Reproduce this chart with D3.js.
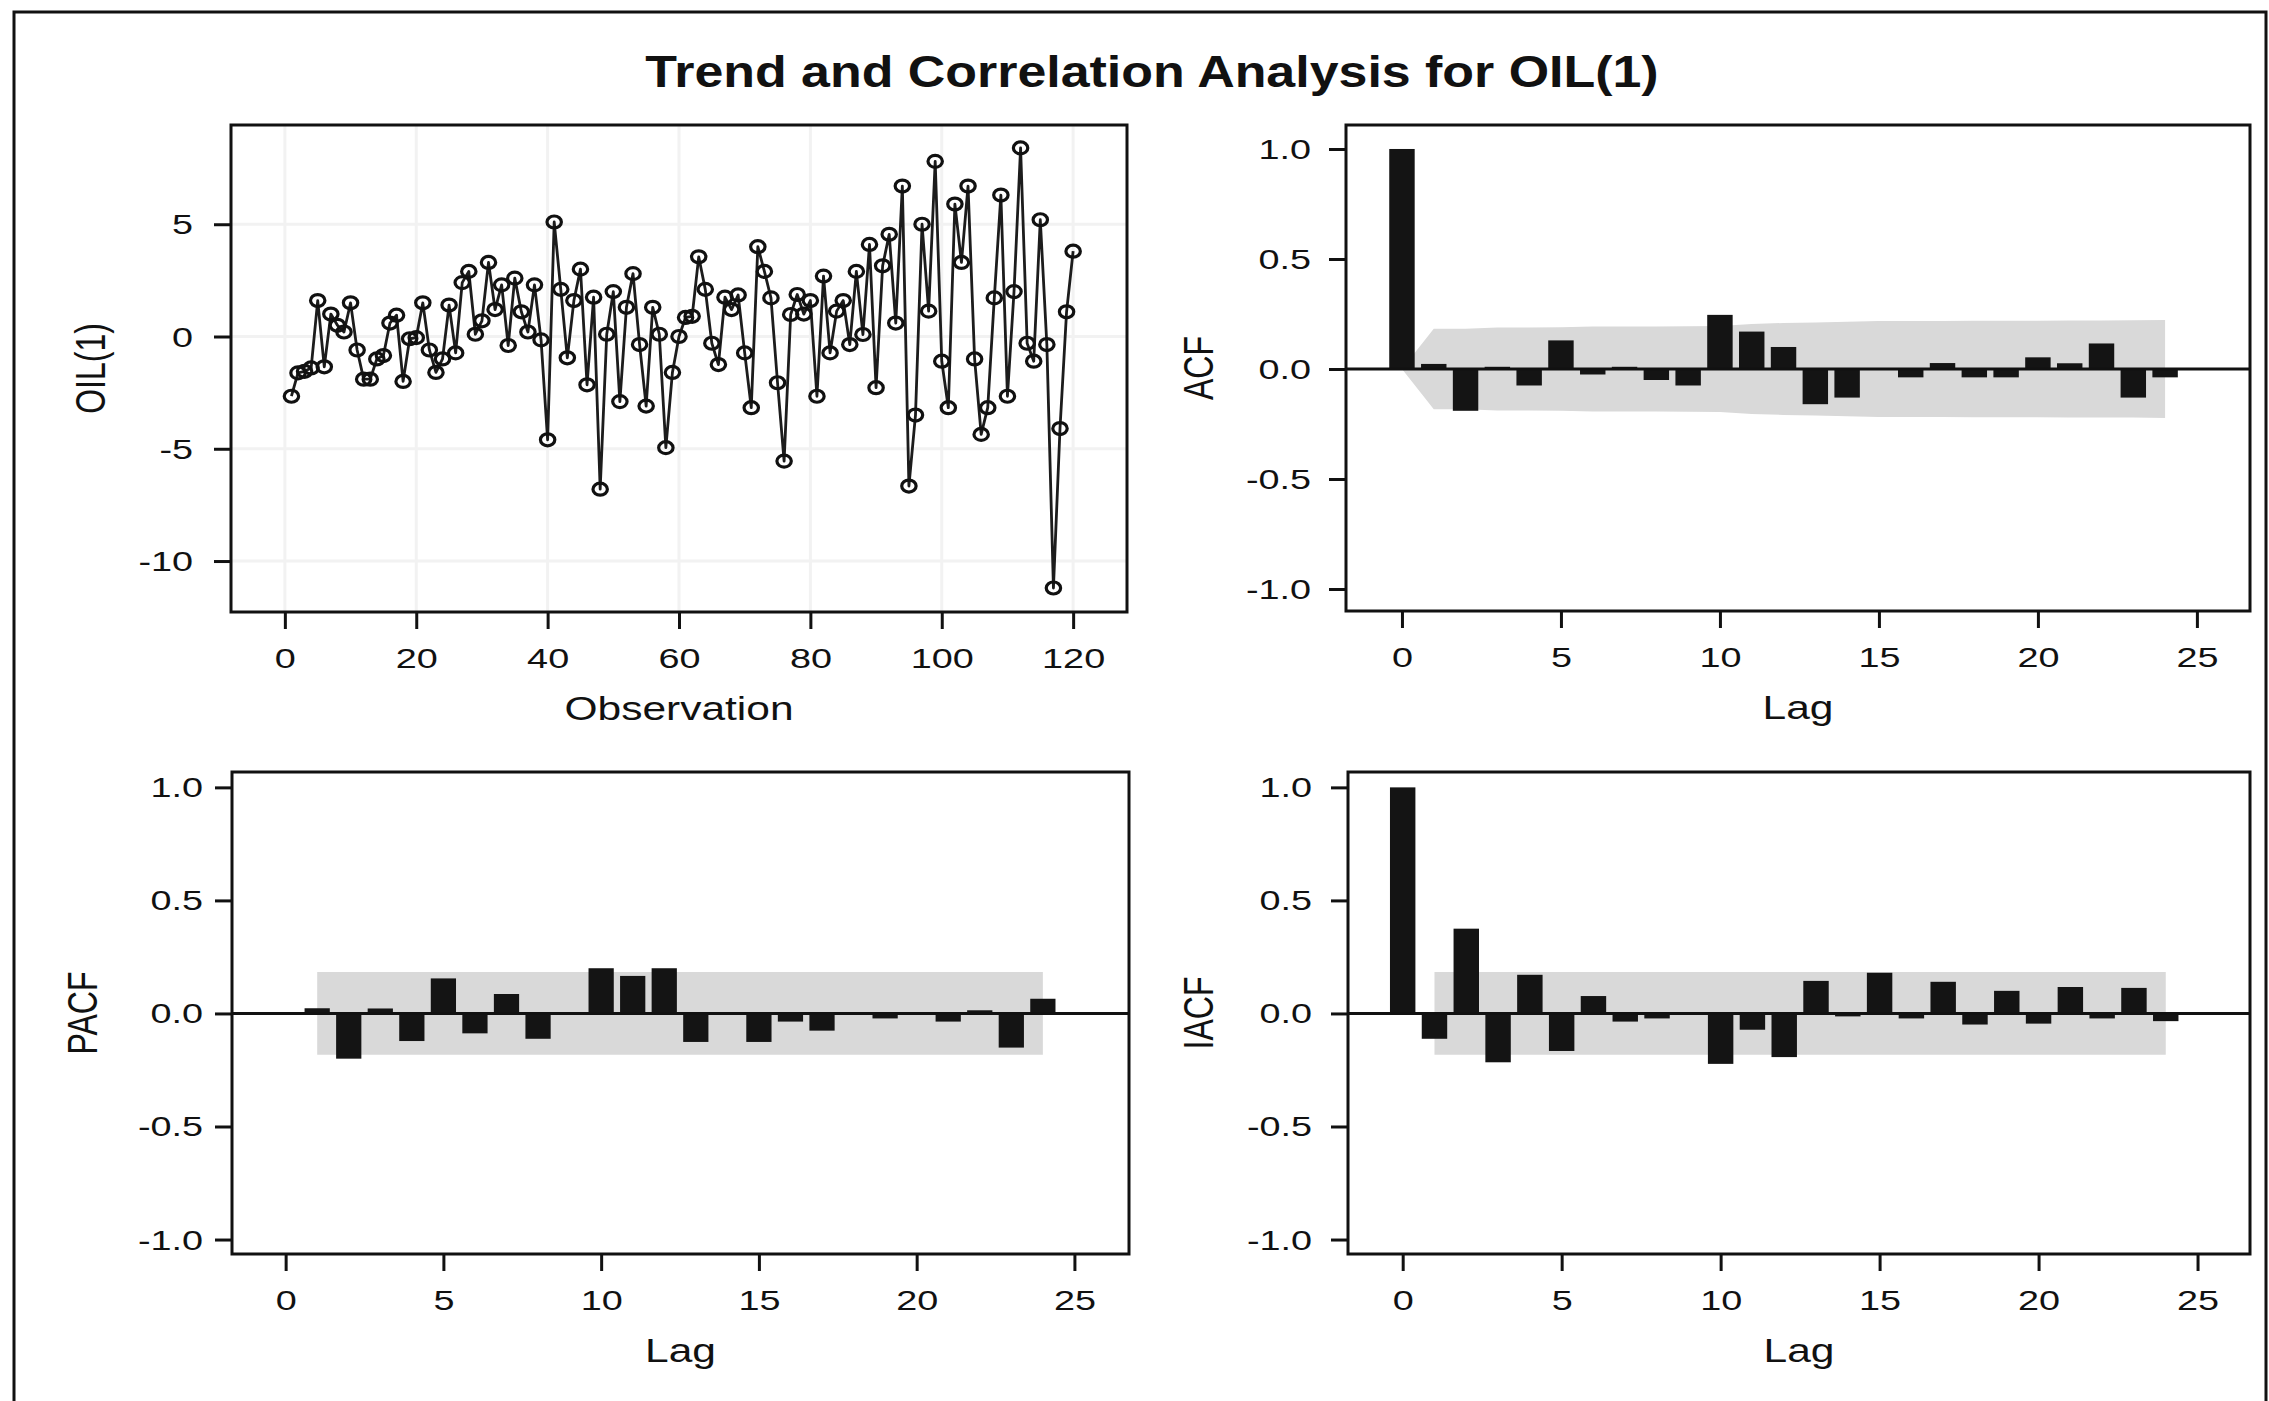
<!DOCTYPE html>
<html>
<head>
<meta charset="utf-8">
<script src="https://cdn.jsdelivr.net/npm/d3@7"></script>
<style>
body { margin: 0; background: #fff; }
text { font-family: "Liberation Sans", Arial, sans-serif; fill: #111; }
</style>
</head>
<body>
<script>
// first difference of OIL, observations 1..120
var oil = [
  -2.66, -1.62, -1.55, -1.4, 1.6, -1.35, 1.0, 0.5, 0.2, 1.5,
  -0.6, -1.9, -1.9, -1.0, -0.85, 0.6, 0.95, -2.0, -0.1, -0.05,
  1.5, -0.6, -1.6, -1.0, 1.4, -0.73, 2.4, 2.9, 0.1, 0.7,
  3.3, 1.2, 2.3, -0.4, 2.6, 1.1, 0.2, 2.3, -0.15, -4.6,
  5.1, 2.1, -0.95, 1.6, 3.0, -2.15, 1.75, -6.8, 0.1, 2.0,
  -2.9, 1.3, 2.8, -0.36, -3.1, 1.3, 0.1, -4.95, -1.6, 0.0,
  0.85, 0.9, 3.55, 2.1, -0.3, -1.25, 1.75, 1.2, 1.85, -0.73,
  -3.17, 4.0, 2.9, 1.72, -2.06, -5.55, 0.98, 1.87, 1.0, 1.6,
  -2.66, 2.69, -0.73, 1.13, 1.6, -0.36, 2.9, 0.09, 4.1, -2.28,
  3.15, 4.55, 0.6, 6.7, -6.66, -3.5, 5.0, 1.13, 7.8, -1.1,
  -3.17, 5.9, 3.3, 6.7, -1.0, -4.36, -3.17, 1.72, 6.3, -2.66,
  2.0, 8.4, -0.3, -1.1, 5.2, -0.36, -11.2, -4.1, 1.1, 3.8
];

// lags 0..24
var acf = [1.0, 0.023, -0.19, 0.01, -0.075, 0.13, -0.025, 0.01, -0.05, -0.075,
  0.246, 0.17, 0.10, -0.16, -0.13, 0.003, -0.038, 0.027, -0.038, -0.038,
  0.053, 0.026, 0.116, -0.13, -0.038];
var acfBand = [0, 0.183, 0.183, 0.189, 0.189, 0.190, 0.193, 0.193, 0.193, 0.194,
  0.195, 0.205, 0.209, 0.211, 0.215, 0.218, 0.218, 0.218, 0.219, 0.219,
  0.219, 0.220, 0.220, 0.221, 0.223];

// lags 1..24
var pacf = [0.023, -0.20, 0.022, -0.122, 0.155, -0.088, 0.086, -0.112, 0.0, 0.20,
  0.166, 0.20, -0.126, 0.0, -0.126, -0.036, -0.076, -0.005, -0.022, 0.0,
  -0.036, 0.014, -0.151, 0.065];
var pacfBand = 0.183;

// lags 0..24
var iacf = [1.0, -0.112, 0.375, -0.216, 0.171, -0.166, 0.077, -0.036, -0.022, 0.0,
  -0.223, -0.072, -0.193, 0.144, -0.013, 0.18, -0.022, 0.14, -0.049, 0.10,
  -0.045, 0.117, -0.022, 0.113, -0.034];
var iacfBand = 0.183;

var obsTicks = [0, 20, 40, 60, 80, 100, 120];
var oilTicks = [5, 0, -5, -10];
var lagTicks = [0, 5, 10, 15, 20, 25];
var corrTicks = [1.0, 0.5, 0.0, -0.5, -1.0];

var W = 2269, H = 1401;
var ink = "#111";

var svg = d3.select("body").append("svg")
  .attr("width", W)
  .attr("height", H);

svg.append("rect").attr("width", W).attr("height", H).attr("fill", "#fff");
svg.append("rect")
  .attr("x", 14).attr("y", 12)
  .attr("width", 2252).attr("height", 1400)
  .attr("fill", "none").attr("stroke", ink).attr("stroke-width", 3);

svg.append("g")
  .attr("transform", "translate(1152,87) scale(1.18,1)")
  .append("text")
  .attr("text-anchor", "middle")
  .style("font-weight", "bold")
  .style("font-size", "44px")
  .text("Trend and Correlation Analysis for OIL(1)");

// scales
var tsX = d3.scaleLinear().domain([-8.2, 128.2]).range([231, 1127]);
var tsY = d3.scaleLinear().domain([-12.27, 9.42]).range([612, 125]);
var acfX = d3.scaleLinear().domain([-1.76, 26.67]).range([1346, 2250]);
var acfY = d3.scaleLinear().domain([-1.1, 1.109]).range([611, 125]);
var pacfX = d3.scaleLinear().domain([-1.70, 26.73]).range([232, 1129]);
var pacfY = d3.scaleLinear().domain([-1.064, 1.068]).range([1254, 772]);
var iacfX = d3.scaleLinear().domain([-1.72, 26.65]).range([1348, 2250]);
var iacfY = d3.scaleLinear().domain([-1.064, 1.068]).range([1254, 772]);

function fmtInt(d) { return String(d); }
function fmtCorr(d) { return d.toFixed(1); }

function axes(x, y, xt, yt, yfmt, labRight, xlab, ylab, ylabX) {
  var l = x.range()[0], r = x.range()[1], b = y.range()[0], t = y.range()[1];

  var ax = svg.append("g").attr("transform", "translate(0," + b + ")")
    .call(d3.axisBottom(x).tickValues(xt).tickSize(17).tickSizeOuter(0).tickFormat(fmtInt));
  ax.select(".domain").remove();
  ax.selectAll("line").attr("stroke", ink).attr("stroke-width", 3);
  ax.selectAll("text")
    .attr("y", null).attr("dy", null)
    .attr("transform", "translate(0,56) scale(1.4,1)")
    .attr("fill", ink)
    .style("font-size", "27px");

  var ay = svg.append("g").attr("transform", "translate(" + l + ",0)")
    .call(d3.axisLeft(y).tickValues(yt).tickSize(17).tickSizeOuter(0).tickFormat(yfmt));
  ay.select(".domain").remove();
  ay.selectAll("line").attr("stroke", ink).attr("stroke-width", 3);
  ay.selectAll("text")
    .attr("x", null).attr("dy", null)
    .attr("transform", "translate(" + (labRight - l) + ",9.5) scale(1.4,1)")
    .attr("fill", ink)
    .style("font-size", "27px");

  svg.append("g")
    .attr("transform", "translate(" + ((l + r) / 2) + "," + (b + 108) + ") scale(1.25,1)")
    .append("text")
    .attr("text-anchor", "middle")
    .style("font-size", "34px")
    .text(xlab);

  svg.append("g")
    .attr("transform", "translate(" + ylabX + "," + ((t + b) / 2) + ") scale(1.3,1) rotate(-90)")
    .append("text")
    .attr("text-anchor", "middle")
    .style("font-size", "32px")
    .text(ylab);
}

function frame(x, y) {
  var l = x.range()[0], r = x.range()[1], b = y.range()[0], t = y.range()[1];
  svg.append("rect")
    .attr("x", l).attr("y", t)
    .attr("width", r - l).attr("height", b - t)
    .attr("fill", "none").attr("stroke", ink).attr("stroke-width", 3);
}

function zeroLine(x, y) {
  svg.append("line")
    .attr("x1", x.range()[0]).attr("x2", x.range()[1])
    .attr("y1", y(0)).attr("y2", y(0))
    .attr("stroke", ink).attr("stroke-width", 3);
}

function bars(x, y, vals, start) {
  svg.append("g").selectAll("rect")
    .data(vals)
    .join("rect")
    .attr("x", function(d, i) { return x(i + start - 0.4); })
    .attr("width", x(0.8) - x(0))
    .attr("y", function(d) { return y(Math.max(0, d)); })
    .attr("height", function(d) { return Math.abs(y(d) - y(0)); })
    .attr("fill", "#141414");
}

function band(x, y, pts) {
  var area = d3.area()
    .x(function(d) { return x(d[0]); })
    .y0(function(d) { return y(-d[1]); })
    .y1(function(d) { return y(d[1]); });
  svg.append("path").datum(pts).attr("d", area).attr("fill", "#d9d9d9");
}

// ---- time series panel
var tsGrid = svg.append("g").attr("stroke", "#f2f2f2").attr("stroke-width", 3);
tsGrid.selectAll(".gx").data(obsTicks).join("line")
  .attr("x1", function(d) { return tsX(d); }).attr("x2", function(d) { return tsX(d); })
  .attr("y1", tsY.range()[1]).attr("y2", tsY.range()[0]);
tsGrid.selectAll(".gy").data(oilTicks).join("line")
  .attr("y1", function(d) { return tsY(d); }).attr("y2", function(d) { return tsY(d); })
  .attr("x1", tsX.range()[0]).attr("x2", tsX.range()[1]);

var line = d3.line()
  .x(function(d, i) { return tsX(i + 1); })
  .y(function(d) { return tsY(d); });
svg.append("path").datum(oil)
  .attr("d", line)
  .attr("fill", "none")
  .attr("stroke", "#1c1c1c")
  .attr("stroke-width", 2.8)
  .attr("stroke-linejoin", "round");
svg.append("g").selectAll("ellipse")
  .data(oil)
  .join("ellipse")
  .attr("cx", function(d, i) { return tsX(i + 1); })
  .attr("cy", function(d) { return tsY(d); })
  .attr("rx", 7.2)
  .attr("ry", 6)
  .attr("fill", "none")
  .attr("stroke", ink)
  .attr("stroke-width", 3.2);
axes(tsX, tsY, obsTicks, oilTicks, fmtInt, 193, "Observation", "OIL(1)", 105);
frame(tsX, tsY);

// ---- ACF panel
band(acfX, acfY, acfBand.map(function(d, i) { return [i, d]; }));
bars(acfX, acfY, acf, 0);
zeroLine(acfX, acfY);
axes(acfX, acfY, lagTicks, corrTicks, fmtCorr, 1311, "Lag", "ACF", 1213);
frame(acfX, acfY);

// ---- PACF panel
band(pacfX, pacfY, [[1, pacfBand], [24, pacfBand]]);
bars(pacfX, pacfY, pacf, 1);
zeroLine(pacfX, pacfY);
axes(pacfX, pacfY, lagTicks, corrTicks, fmtCorr, 203, "Lag", "PACF", 97);
frame(pacfX, pacfY);

// ---- IACF panel
band(iacfX, iacfY, [[1, iacfBand], [24, iacfBand]]);
bars(iacfX, iacfY, iacf, 0);
zeroLine(iacfX, iacfY);
axes(iacfX, iacfY, lagTicks, corrTicks, fmtCorr, 1312, "Lag", "IACF", 1213);
frame(iacfX, iacfY);
</script>
</body>
</html>
